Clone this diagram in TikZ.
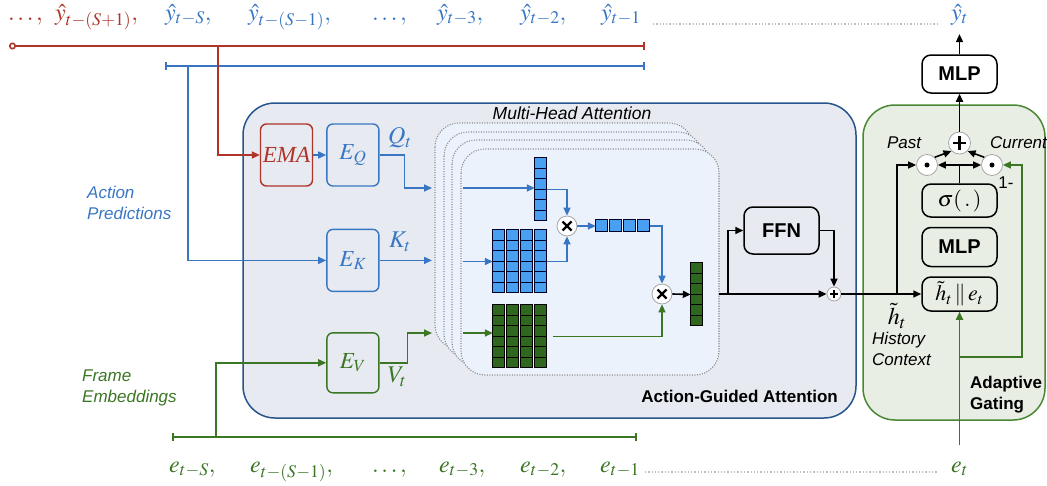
\documentclass[tikz,border=0pt]{standalone}
\usepackage{amsmath}
\usepackage{mathptmx}
\usepackage{fontspec}
\setmainfont{Liberation Serif}
\setsansfont{Liberation Sans}
\usepackage{xcolor}
\usepackage{tikz}
\usetikzlibrary{arrows.meta, positioning, shapes.geometric}

\definecolor{predred}{RGB}{176,52,40}
\definecolor{predblue}{RGB}{56,118,196}
\definecolor{embgreen}{RGB}{58,118,36}
\definecolor{agafill}{RGB}{231,234,240}
\definecolor{agaedge}{RGB}{38,84,140}
\definecolor{headfill}{RGB}{235,242,252}
\definecolor{gatefill}{RGB}{233,238,229}
\definecolor{gateedge}{RGB}{74,135,50}
\definecolor{cellblue}{RGB}{74,160,240}
\definecolor{cellgreen}{RGB}{46,104,30}

\begin{document}
\begin{tikzpicture}[
  x=1pt, y=-1pt,
  mathlbl/.style={inner sep=0pt, font=\fontsize{24}{28}\selectfont},
  notelbl/.style={inner sep=0pt, align=left, font=\sffamily\itshape\fontsize{17}{21}\selectfont},
  titlelbl/.style={inner sep=0pt, align=left, font=\sffamily\bfseries\fontsize{17}{21}\selectfont},
  encbox/.style={rectangle, draw, rounded corners=6pt, line width=1.4pt, minimum width=52pt, minimum height=62pt, inner sep=0pt, font=\fontsize{23}{26}\selectfont},
  opbox/.style={rectangle, draw=black, rounded corners=9pt, line width=1.5pt, minimum width=75pt, inner sep=0pt, font=\sffamily\bfseries\fontsize{20}{22}\selectfont},
  tensor/.style={rectangle, inner sep=0pt},
  feed/.style={line width=1.6pt},
  arrow/.style={line width=1.6pt, -{Triangle[length=8pt,width=7pt]}},
  gapline/.style={draw=black!25, line width=1.3pt, dash pattern=on 1.3pt off 2pt},
  headbox/.style={draw=black!45, line width=1.1pt, dash pattern=on 1.1pt off 1.4pt, fill=headfill, rounded corners=24pt},
  bluecell/.style={draw=black!85!blue, fill=cellblue, line width=1.2pt},
  greencell/.style={draw=black, fill=cellgreen, line width=1.2pt},
  mulnode/.style={circle, draw=black!35, fill=white, line width=0.8pt, minimum size=20pt, inner sep=0pt,
    path picture={\draw[black, line width=2.4pt] ([shift={(-4.5,-4.5)}]path picture bounding box.center) -- ([shift={(4.5,4.5)}]path picture bounding box.center)
      ([shift={(-4.5,4.5)}]path picture bounding box.center) -- ([shift={(4.5,-4.5)}]path picture bounding box.center);}},
  sumnode/.style={circle, draw=black!35, fill=white, line width=0.8pt, minimum size=#1, inner sep=0pt,
    path picture={\draw[black, line width=0.12*#1] ([xshift=-0.3*#1]path picture bounding box.center) -- ([xshift=0.3*#1]path picture bounding box.center)
      ([yshift=-0.3*#1]path picture bounding box.center) -- ([yshift=0.3*#1]path picture bounding box.center);}},
  dotnode/.style={circle, draw=black!35, fill=white, line width=0.8pt, minimum size=21pt, inner sep=0pt,
    path picture={\fill[black] (path picture bounding box.center) circle (2.5pt);}}
]
\useasboundingbox (0,0) rectangle (1047,485);

% Containers
\draw[draw=agaedge, fill=agafill, line width=1.5pt, rounded corners=32pt] (243,103) rectangle (856,418);
\draw[draw=gateedge, fill=gatefill, line width=1.5pt, rounded corners=32pt] (863,105) rectangle (1045,420);
\foreach \d in {26,17,9,0}
  \draw[headbox] (461-\d,149-\d) rectangle ++(258,226);
\node[notelbl, font=\sffamily\itshape\fontsize{17.5}{21}\selectfont] (mhalbl) at (572,113) {Multi-Head Attention};
\node[titlelbl, anchor=south east] (agalbl) at (838,403) {Action-Guided Attention};
\node[titlelbl, anchor=north west] (gatelbl) at (970,376) {Adaptive\\Gating};

% Sequence labels (top row)
\node[mathlbl, text=predred, anchor=base west] (ydots) at (8,20) {$\dots,$};
\node[mathlbl, text=predred, anchor=base west] (ysp1) at (55,20) {$\hat{y}_{t-(S+1)},$};
\node[mathlbl, text=predblue, anchor=base west] (ys) at (165,20) {$\hat{y}_{t-S},$};
\node[mathlbl, text=predblue, anchor=base west] (ysm1) at (248,20) {$\hat{y}_{t-(S-1)},$};
\node[mathlbl, text=predblue, anchor=base west] (ydots2) at (372,20) {$\dots,$};
\node[mathlbl, text=predblue, anchor=base west] (yt3) at (437,20) {$\hat{y}_{t-3},$};
\node[mathlbl, text=predblue, anchor=base west] (yt2) at (520,20) {$\hat{y}_{t-2},$};
\node[mathlbl, text=predblue, anchor=base west] (yt1) at (601,20) {$\hat{y}_{t-1}$};
\node[mathlbl, text=predblue, anchor=base] (yt) at (959.5,20) {$\hat{y}_t$};
\draw[gapline] ([shift={(12,4)}]yt1.base east) -- ([shift={(-12,4)}]yt.base west);

% Sequence labels (bottom row)
\node[mathlbl, text=embgreen, anchor=base west] (ets) at (169,472) {$e_{t-S},$};
\node[mathlbl, text=embgreen, anchor=base west] (etsm1) at (250,472) {$e_{t-(S-1)},$};
\node[mathlbl, text=embgreen, anchor=base west] (edots) at (372,472) {$\dots,$};
\node[mathlbl, text=embgreen, anchor=base west] (et3) at (439,472) {$e_{t-3},$};
\node[mathlbl, text=embgreen, anchor=base west] (et2) at (520,472) {$e_{t-2},$};
\node[mathlbl, text=embgreen, anchor=base west] (et1) at (600,472) {$e_{t-1}$};
\node[mathlbl, text=embgreen, anchor=base] (et) at (959.5,472) {$e_t$};
\draw[gapline] ([shift={(5,0)}]et1.base east) -- ([shift={(-14,0)}]et.base west);

\node[notelbl, text=predblue, anchor=north west] (predlbl) at (87,186) {Action\\Predictions};
\node[notelbl, text=embgreen, anchor=north west] (framelbl) at (82,370) {Frame\\Embeddings};

% Encoders
\node[encbox, draw=predred, text=predred] (ema) at (286.5,155) {\textit{EMA}};
\node[encbox, draw=predblue, text=predblue, right=13pt of ema] (eq) {$E_Q$};
\node[encbox, draw=predblue, text=predblue, below=42pt of eq] (ek) {$E_K$};
\node[encbox, draw=embgreen, text=embgreen, below=40pt of ek, minimum height=60pt] (ev) {$E_V$};
\node[mathlbl, text=predblue] (qt) at (400,138) {$Q_t$};
\node[mathlbl, text=predblue] (kt) at (400,242) {$K_t$};
\node[mathlbl, text=embgreen] (vt) at (397,377) {$V_t$};

% Input buses
\coordinate (redstart) at (9,46);
\coordinate (redend) at (645,46);
\coordinate (redtap) at (218,46);
\coordinate (bluestart) at (165,66);
\coordinate (blueend) at (645,66);
\coordinate (bluetap) at (188,66);
\coordinate (greenstart) at (172,437);
\coordinate (greenend) at (637,437);
\coordinate (greentap) at (216,437);
\draw[feed, color=predred, {Circle[open,length=7pt,width=7pt,fill=white]}-{Bar[width=8pt]}] (redstart) -- (redend);
\draw[feed, color=predblue, {Bar[width=8pt]}-{Bar[width=8pt]}] (bluestart) -- (blueend);
\draw[feed, color=embgreen, {Bar[width=8pt]}-{Bar[width=8pt]}] (greenstart) -- (greenend);
\draw[arrow, color=predred] (redtap) |- (ema.west);
\draw[arrow, color=predblue] (bluetap) |- (ek.west);
\draw[arrow, color=embgreen] (greentap) |- (ev.west);
\draw[arrow, color=predblue] (ema.east) -- (eq.west);

% Into the heads
\coordinate (inq) at (432,188);
\coordinate (ink) at (432,260);
\coordinate (inv) at (432,333);
\draw[arrow, color=predblue] (eq.east) -- ++(25,0) |- (inq);
\draw[arrow, color=predblue] (ek.east) -- (ek.east -| inq);
\draw[arrow, color=embgreen] (ev.east) -- ++(28,0) |- (inv);

% Attention head
\node[tensor, minimum width=12pt, minimum height=63pt] (qvec) at (541,189.5) {};
\node[tensor, minimum width=54pt, minimum height=63pt] (kmat) at (520,261.5) {};
\node[tensor, minimum width=54pt, minimum height=63pt] (vmat) at (520,336.5) {};
\node[tensor, minimum width=54pt, minimum height=12pt] (rowvec) at (623,226) {};
\node[tensor, minimum width=12pt, minimum height=63pt] (outvec) at (697,294.5) {};
\foreach \r in {0,...,5} {
  \draw[bluecell] ([shift={(0,\r*10.5)}]qvec.north west) rectangle ++(12,10.5);
  \draw[greencell] ([shift={(0,\r*10.5)}]outvec.north west) rectangle ++(12,10.5);
}
\foreach \c in {0,...,3} {
  \draw[bluecell] ([shift={(\c*14,0)}]rowvec.north west) rectangle ++(12,12);
  \foreach \r in {0,...,5} {
    \draw[bluecell] ([shift={(\c*14,\r*10.5)}]kmat.north west) rectangle ++(12,10.5);
    \draw[greencell] ([shift={(\c*14,\r*10.5)}]vmat.north west) rectangle ++(12,10.5);
  }
}
\node[mulnode] (mul1) at (567,226) {};
\node[mulnode] (mul2) at (662,294) {};
\coordinate (hq) at (463,188);
\coordinate (hk) at (463,261.5);
\coordinate (hv) at (463,333);
\draw[arrow, color=predblue] (hq) -- (hq -| qvec.west);
\draw[arrow, color=predblue] (hk) -- (kmat.west);
\draw[arrow, color=embgreen] (hv) -- (hv -| vmat.west);
\draw[arrow, color=predblue] (qvec.east) -| (mul1.north);
\draw[arrow, color=predblue] (kmat.east) -| (mul1.south);
\draw[arrow, color=predblue] (mul1.east) -- (rowvec.west);
\draw[arrow, color=predblue] (rowvec.east) -| (mul2.north);
\draw[arrow, color=embgreen] ([xshift=6pt]vmat.east) -| (mul2.south);
\draw[arrow] (mul2.east) -- (outvec.west);

% FFN with residual
\node[opbox, minimum height=47pt] (ffn) at (781.5,230.5) {FFN};
\node[sumnode=14pt] (res) at (834,294) {};
\coordinate (headout) at (719,294);
\coordinate (skip) at (728,294);
\draw[arrow] (headout) -- (res.west);
\draw[arrow] (skip) |- (ffn.west);
\draw[arrow] (ffn.east) -| (res.north);

% Adaptive gating
\node[opbox, minimum height=34pt, font=\fontsize{22}{24}\selectfont] (cat) at (959.5,294) {$\tilde{h}_t \,\Vert\, e_t$};
\node[opbox, minimum height=39pt, above=9pt of cat] (mlpg) {MLP};
\node[opbox, minimum height=33pt, above=9pt of mlpg, font=\fontsize{22}{24}\selectfont] (sig) {$\sigma(\,.\,)$};
\node[dotnode] (dotl) at (927,165) {};
\node[dotnode] (dotr) at (992,165) {};
\node[sumnode=22pt] (sum) at (959.5,143) {};
\node[opbox, minimum height=38pt] (mlpo) at (959.5,74) {MLP};
\coordinate (split) at (sig.north |- dotl);
\coordinate (htap) at (897,294);
\draw[arrow] (res.east) -- (cat.west);
\draw[arrow] (htap) |- (dotl.west);
\draw[line width=1.6pt] (sig.north) -- (split);
\draw[arrow] (split) -- (dotl.east);
\draw[arrow] (split) -- (dotr.west);
\draw[arrow] (dotl.north east) -- (sum.south west);
\draw[arrow] (dotr.north west) -- (sum.south east);
\draw[arrow] (sum.north) -- (mlpo.south);
\draw[arrow, shorten >=9pt] (mlpo.north) -- (yt.south);
\coordinate (etin) at (959.5,445);
\coordinate (etap) at (959.5,357);
\coordinate (gcorner) at (1022,357);
\draw[arrow, color=embgreen] (etin) -- (cat.south);
\draw[arrow, color=embgreen] (etap) -- (gcorner) |- (dotr.east);

\node[notelbl] (pastlbl) at (904,143) {Past};
\node[notelbl, anchor=west] (curlbl) at (990,143) {Current};
\node[notelbl, font=\sffamily\fontsize{17}{21}\selectfont] (onelbl) at (1006,183) {1-};
\node[mathlbl] (htlbl) at (897,316) {$\tilde{h}_t$};
\node[notelbl, anchor=north west] (histlbl) at (872,332) {History\\Context};

\end{tikzpicture}
\end{document}
